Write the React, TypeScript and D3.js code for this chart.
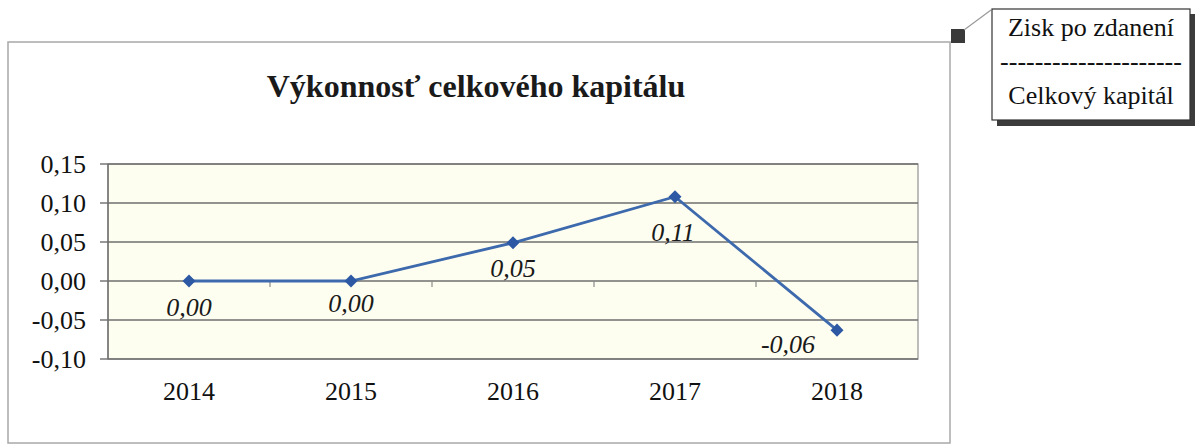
import * as d3 from 'd3';

const years = ['2014', '2015', '2016', '2017', '2018'];
const values = [0.0, 0.0, 0.049, 0.108, -0.063];
const yTicks = [0.15, 0.1, 0.05, 0.0, -0.05, -0.1];
const title = 'Výkonnosť celkového kapitálu';
const noteTop = 'Zisk po zdanení';
const noteBottom = 'Celkový kapitál';

// label placement relative to the point (Excel put them roughly below)
const labelDx = [0, 0, 0, -2, -49];
const labelDy = [26, 22, 25, 35, 14];

const W = 1199;
const H = 445;
const plot = { left: 108, right: 918, top: 164, bottom: 359 };
const serif = '"Liberation Serif", "Times New Roman", serif';

const fmt = (v: number) => d3.format('.2f')(v).replace('.', ',').replace('−', '-');

export default function App() {
  const x = d3.scaleBand<string>().domain(years).range([plot.left, plot.right]);
  const y = d3.scaleLinear().domain([-0.1, 0.15]).range([plot.bottom, plot.top]);
  const cx = (d: string) => (x(d) ?? 0) + x.bandwidth() / 2;

  const line = d3
    .line<number>()
    .x((_, i) => cx(years[i]))
    .y((v) => y(v));

  const marker = d3.symbol(d3.symbolSquare, 85)() ?? '';
  const zeroY = y(0);
  const boundaries = years.slice(1).map((d) => x(d) ?? 0);

  return (
    <div style={{ position: 'absolute', left: 0, top: 0 }}>
      <svg width={W} height={H} style={{ display: 'block', background: '#fff' }}>
        {/* outer chart frame */}
        <rect x={8} y={42} width={942} height={401} fill="#fff" stroke="#a8a8a8" strokeWidth={1.5} />
        <rect x={951} y={29} width={14} height={14} fill="#3a3a3a" />

        {/* callout */}
        <line x1={964} y1={30} x2={991} y2={10} stroke="#9a9a9a" strokeWidth={1.2} />
        <rect x={997} y={14} width={198} height={112} fill="#3c3c3c" />
        <rect x={992} y={9} width={198} height={111} fill="#fff" stroke="#333" strokeWidth={1.2} />
        <g fontFamily={serif} fontSize={26} fill="#111" textAnchor="middle">
          <text x={1091} y={36}>{noteTop}</text>
          <text x={1091} y={70}>{'---------------------'}</text>
          <text x={1091} y={104}>{noteBottom}</text>
        </g>

        {/* title */}
        <text x={476} y={97} textAnchor="middle" fontFamily={serif} fontSize={32} fontWeight="bold" fill="#1a1a1a">
          {title}
        </text>

        {/* plot area */}
        <rect
          x={plot.left}
          y={plot.top}
          width={plot.right - plot.left}
          height={plot.bottom - plot.top}
          fill="#fefef0"
          stroke="#9a9a9a"
          strokeWidth={1.3}
        />
        {yTicks.map((t) => (
          <g key={t}>
            <line x1={plot.left} x2={plot.right} y1={y(t)} y2={y(t)} stroke="#6e6e6e" strokeWidth={1.4} />
            <line x1={plot.left - 8} x2={plot.left} y1={y(t)} y2={y(t)} stroke="#6e6e6e" strokeWidth={1.4} />
            <text
              x={86}
              y={y(t)}
              dy="0.35em"
              textAnchor="end"
              fontFamily={serif}
              fontSize={26}
              fill="#111"
            >
              {fmt(t)}
            </text>
          </g>
        ))}
        <line x1={plot.left} x2={plot.left} y1={plot.top} y2={plot.bottom} stroke="#6e6e6e" strokeWidth={1.4} />

        {/* category ticks on the zero line */}
        {boundaries.map((bx) => (
          <line key={bx} x1={bx} x2={bx} y1={zeroY} y2={zeroY + 6} stroke="#8a8a8a" strokeWidth={1.2} />
        ))}

        {/* x labels */}
        {years.map((d) => (
          <text
            key={d}
            x={cx(d)}
            y={391}
            dy="0.35em"
            textAnchor="middle"
            fontFamily={serif}
            fontSize={26}
            fill="#111"
          >
            {d}
          </text>
        ))}

        {/* series */}
        <path d={line(values) ?? ''} fill="none" stroke="#3d69ad" strokeWidth={2.8} />
        {values.map((v, i) => (
          <path
            key={years[i]}
            d={marker}
            transform={`translate(${cx(years[i])},${y(v)}) rotate(45)`}
            fill="#2d58a3"
          />
        ))}
        {values.map((v, i) => (
          <text
            key={'l' + years[i]}
            x={cx(years[i]) + labelDx[i]}
            y={y(v) + labelDy[i]}
            dy="0.35em"
            textAnchor="middle"
            fontFamily={serif}
            fontStyle="italic"
            fontSize={26}
            fill="#1a1a1a"
          >
            {fmt(v)}
          </text>
        ))}
      </svg>
    </div>
  );
}
